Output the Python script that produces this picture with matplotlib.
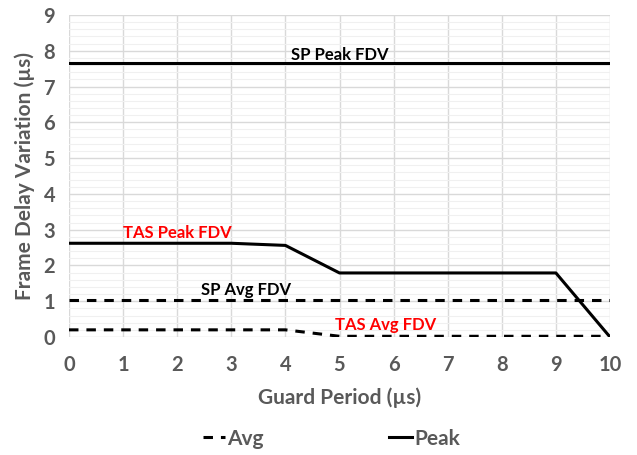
import matplotlib.pyplot as plt
import numpy as np

# Guard period (µs)
guard = [0, 1, 2, 3, 4, 5, 6, 7, 8, 9, 10]

# Frame delay variation (µs)
sp_peak = [7.65] * 11
sp_avg = [1.03] * 11
tas_peak = [2.62, 2.62, 2.62, 2.62, 2.56, 1.79, 1.79, 1.79, 1.79, 1.79, 0.0]
tas_avg = [0.2, 0.2, 0.2, 0.2, 0.2, 0.02, 0.02, 0.02, 0.02, 0.02, 0.02]

labels = [
    ("SP Peak FDV", 5.0, 7.88, "black"),
    ("TAS Peak FDV", 2.0, 2.9, "#ff0000"),
    ("SP Avg FDV", 3.27, 1.31, "black"),
    ("TAS Avg FDV", 5.86, 0.33, "#ff0000"),
]

plt.rcParams["font.family"] = ["Lato", "DejaVu Sans"]
plt.rcParams["font.weight"] = "bold"
gray = "#595959"

fig = plt.figure(figsize=(6.37, 4.55), dpi=100)
ax = fig.add_axes([69 / 637, 1 - 337 / 455, 541 / 637, 322 / 455])

dash = (0, (3.1, 2.6))
ax.plot(guard, sp_avg, color="black", linewidth=2.2, linestyle=dash, label="Avg")
ax.plot(guard, sp_peak, color="black", linewidth=2.2, label="Peak")
ax.plot(guard, tas_peak, color="black", linewidth=2.2)
ax.plot(guard, tas_avg, color="black", linewidth=2.2, linestyle=dash)

for text, x, y, c in labels:
    ax.text(x, y, text, color=c, fontsize=12, fontweight="bold",
            ha="center", va="center")

ax.set_xlim(0, 10)
ax.set_ylim(0, 9)
ax.set_xticks(np.arange(0, 11, 1))
ax.set_yticks(np.arange(0, 10, 1))
ax.set_yticks(np.arange(0, 9.01, 0.2), minor=True)
ax.grid(True, which="major", color="#d9d9d9", linewidth=1.0)
ax.grid(True, which="minor", axis="y", color="#f0f0f0", linewidth=0.8)
ax.set_axisbelow(True)
for s in ax.spines.values():
    s.set_visible(False)
ax.tick_params(which="both", length=0, labelsize=14.5, labelcolor=gray)
ax.tick_params(axis="x", pad=13)
ax.tick_params(axis="y", pad=10)

ax.set_xlabel("Guard Period (µs)", fontsize=15, color=gray, fontweight="bold", labelpad=9)
ax.set_ylabel("Frame Delay Variation (µs)", fontsize=15, color=gray, fontweight="bold", labelpad=6)

fig.legend(loc="lower center", bbox_to_anchor=(0.52, -0.027), ncol=2, frameon=False,
           fontsize=15, labelcolor=gray, handlelength=1.1, handletextpad=0.1,
           columnspacing=6.0)

fig.savefig("out.png", dpi=100)
